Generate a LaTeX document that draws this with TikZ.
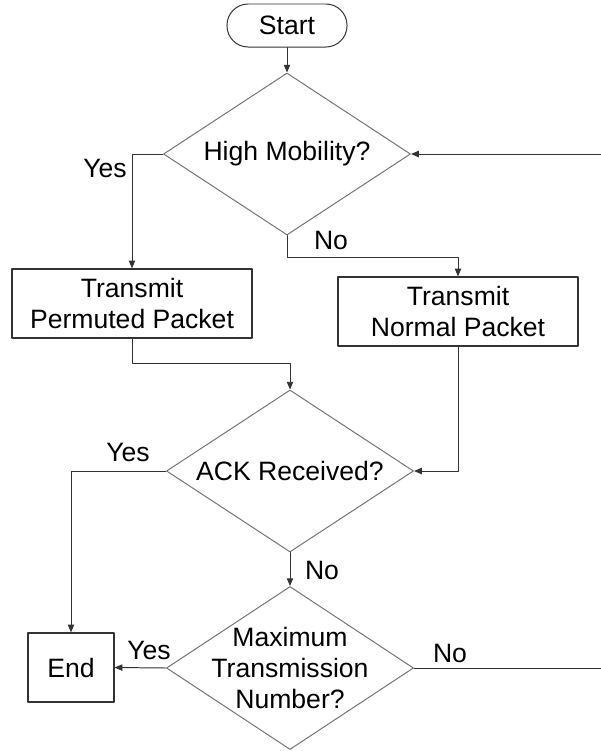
\documentclass[tikz,border=0pt]{standalone}
\usepackage{fontspec}
\setmainfont{Liberation Sans}
\usepackage{tikz}
\usetikzlibrary{arrows.meta}
\usetikzlibrary{shapes.geometric}

\begin{document}
\begin{tikzpicture}[line cap=round,line join=round,>={Triangle[length=5.5pt,width=4.5pt]},x=0.025cm,y=-0.025cm,
  font=\fontsize{18.9}{22}\selectfont,
  flow/.style={draw=black!80,line width=0.7pt},
  procbox/.style={rectangle,draw=black!80,line width=0.8pt,minimum width=6cm,minimum height=1.725cm,inner sep=0pt,align=center},
  decision/.style={diamond,draw=black!55,line width=0.7pt,minimum width=6.175cm,minimum height=4.05cm,inner sep=0pt},
  answer/.style={inner sep=0pt}]
\useasboundingbox (0,0) rectangle (600,751);
% boxes
\node [draw=black!80,line width=0.7pt,rounded corners=0.53cm,minimum width=3cm,minimum height=1.075cm,inner sep=0pt] (start) at (287,25.5) {Start};
\node [decision,label={center:High Mobility?}] (hm) at (287,154) {};
\node [procbox] (perm) at (132,303.5) {Transmit\\Permuted Packet};
\node [procbox] (normal) at (458,311.5) {Transmit\\Normal Packet};
\node [decision,label={center:ACK Received?}] (ack) at (290,471) {};
\node [decision,minimum height=4.075cm,label={[align=center]center:Maximum\\Transmission\\Number?}] (mtn) at (290,668) {};
\node [procbox,minimum width=2.15cm] (fin) at (71,667.5) {End};
\coordinate (loop) at (606,0);
% connectors
\draw [flow,->] (start) -- (hm);
\draw [flow,->] (hm.west) -| (perm.north);
\draw [flow,->] (hm.south) -- ++(0,22) -| (normal.north);
\draw [flow,->] (perm.south) -- ++(0,25) -| (ack.north);
\draw [flow,->] (normal.south) |- (ack.east);
\draw [flow,->] (ack.west) -| (fin.north);
\draw [flow,->] (ack.south) -- (mtn.north);
\draw [flow,->] (mtn.west) -- (fin.east);
\draw [flow,->] (mtn.east) -- (mtn.east -| loop) |- (hm.east);
% answers
\node [answer] (hmyes) at (105,168) {Yes};
\node [answer] (hmno) at (331,240) {No};
\node [answer] (ackyes) at (128,452) {Yes};
\node [answer] (ackno) at (322,570) {No};
\node [answer] (mtnyes) at (149,650) {Yes};
\node [answer] (mtnno) at (450,653) {No};
\end{tikzpicture}
\end{document}
